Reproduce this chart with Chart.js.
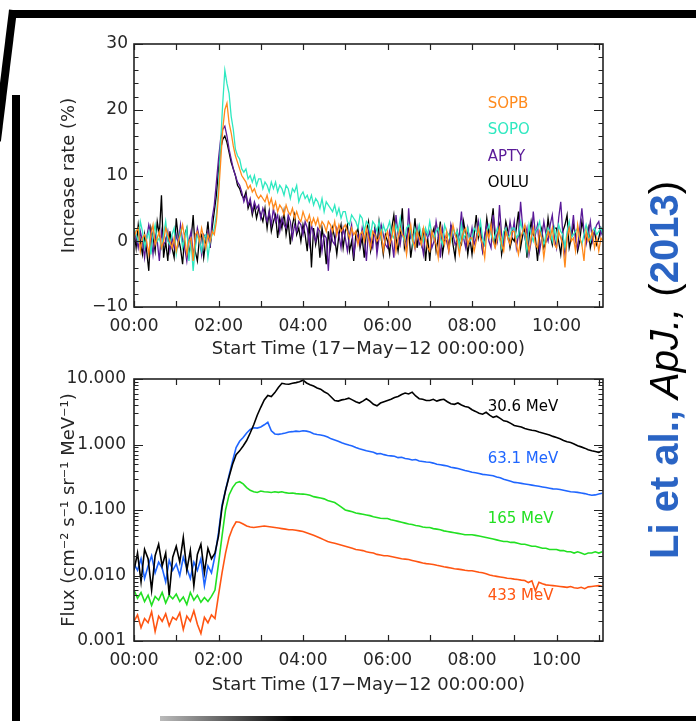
<!DOCTYPE html>
<html>
<head>
<meta charset="utf-8">
<script src="https://cdn.jsdelivr.net/npm/chart.js@4.4.1/dist/chart.umd.min.js"></script>
<style>
  html, body { margin: 0; padding: 0; background: #fff; }
  #wrap { position: relative; width: 696px; height: 721px; overflow: hidden; background: #fff; }
  canvas { position: absolute; left: 0; }
  #c1 { top: 0; }
  #c2 { top: 360px; }
  .bar { position: absolute; background: #000; }
  #cite {
    position: absolute; left: 664px; top: 370px;
    transform: translate(-50%, -50%) rotate(-90deg);
    white-space: nowrap; font-family: "Liberation Sans", Arial, sans-serif;
    font-size: 40px; color: #000; line-height: 1;
  }
  #cite b { color: #2a64c4; font-weight: bold; }
  #cite i { font-style: italic; }
</style>
</head>
<body>
<div id="wrap">
  <div class="bar" style="left:13px;top:10px;width:683px;height:8px;"></div>
  <div class="bar" style="left:12px;top:95px;width:8px;height:626px;"></div>
  <div class="bar" style="left:9px;top:10px;width:8px;height:132px;transform-origin:50% 0;transform:rotate(7deg);"></div>
  <div class="bar" style="left:160px;top:716px;width:536px;height:5px;background:linear-gradient(90deg,#bbb,#000 25%);"></div>
  <canvas id="c1" width="696" height="360"></canvas>
  <canvas id="c2" width="696" height="361"></canvas>
  <div id="cite"><b>Li et al.,</b> <i>ApJ.,</i> (<b>2013</b>)</div>
</div>
<script>
// ---------- sampling ----------
const rateSampleMinutes = 3; // top panel: one value every 3 minutes from 00:00
const fluxSampleMinutes = 5; // bottom panel: one value every 5 minutes from 00:00

// ---------- top panel: neutron monitor increase rate (%) ----------
const sopb = [
  0.5, 1.5, 2, -1.5, 0.5, 1, 0, -2, 1, 2.5, -0.5, 0.5, 1.5, -1, 0, 2, 1, 0, -1, 0.5,
  -1.5, 0, 1, 2.5, 0.5, -2, 0, 0.5, -3, 1, 1.5, 0, 2, 0.5, -1, 1, 0, 1.5, 1, 3,
  7, 12, 17, 20, 21, 18, 16.5, 14.5, 13, 12, 11, 10, 9.5, 9, 8, 8.5, 7.5, 8, 7, 6.5,
  7, 6.5, 6, 7, 5.5, 6.5, 5, 6, 4.5, 5.5, 5, 4, 5.5, 4.5, 4, 5, 3.5, 4.5, 3.5, 3,
  4.5, 3.5, 3, 4, 2.5, 3.5, 2.5, 3.5, 2, 3, 2.5, 1.5, 3, 2.5, 1.5, 3, 1, 2.5, 1.5, 2,
  2.5, 1.5, 0.5, 2, 1, 1.5, -0.5, 1, 1.5, 0, 2, 0.5, -1, 1.5, 1, 0, 0.5, 1.5, -1.5, 0.5,
  1.5, -0.5, 0.5, 2.5, -1.5, 0.5, 2, 1, 0.5, -2, 1, 2.5, 0, -1, 1.5, 0.5, -0.5, 2, 0.5, -1,
  -1.5, 1.5, 0.5, -0.5, -2.5, 2, 0.5, -0.5, 1.5, -1.5, 0.5, 2.5, 1, 0, -2, 0, 1.5, 2, -0.5, 0.5,
  0.5, -1.5, 0, 2, 0.5, -0.5, -2.5, 1.5, 0.5, 2.5, 0, -1, 0.5, 2, -0.5, -1.5, 1.5, 0.5, -0.5, 1.5,
  1.5, -0.5, -2, 0.5, 1.5, 2.5, 0, -1.5, 0.5, 2, -0.5, -1, 1.5, 0.5, -2.5, 0, 1.5, 0.5, 2, -0.5,
  -1, 1.5, 0.5, -0.5, -4, 0.5, 2, 0, 0.5, -1.5, 2.5, 0.5, -0.5, -3, 1.5, 0, 0.5, 1.5, -1, 0.5,
  -1.5, 0.5, 0
];
const sopo = [
  2, 1, 0, 3, 1.5, -1, 0.5, 1.5, -2, 1, 2.5, 0, 0.5, -1, 1, 3, 0, -0.5, 1, 2,
  -2, 0, 1.5, -1, 0.5, 2, -3, 0, -4.5, -1, 1, 0, -1.5, 0.5, 1, -2.5, 0, 1, 2, 4,
  8, 15, 21, 26, 24, 22.5, 19, 17, 14, 13, 12.5, 11, 10.5, 11, 9.5, 10, 9, 10, 8.5, 9.5,
  9.5, 8, 9, 8.5, 7.5, 9, 8, 9, 7.5, 8.5, 8, 7, 8.5, 8, 6.5, 8, 7.5, 8.5, 6, 7,
  7.5, 6.5, 7, 6, 7, 5.5, 6.5, 6, 5, 6.5, 4.5, 6, 5.5, 5, 4.5, 5.5, 4, 5, 3.5, 4.5,
  4.5, 3, 2.5, 4, 3.5, 3, 2, 4, 3.5, 1.5, 3, 2.5, 1, 3, 2.5, 1.5, 3, 0.5, 2.5, 1.5,
  2, 3, 1, 0.5, 2.5, 1.5, 3.5, 1, 0, 2, 2.5, 1.5, -0.5, 2, 1, 2.5, 1, 0, 2, 1,
  3, 1, 0.5, 1.5, 2, 0.5, -0.5, 2.5, 1.5, 1, 0, 2, 1, 1.5, -1, 2.5, 0.5, 1, 2, 0,
  0.5, 2, 1.5, 1, 3, 0.5, -0.5, 1.5, 2.5, 1, 0, 1, 2, 0.5, -1, 1.5, 2, 0.5, 1, 2,
  2, 0.5, 1, 3, 1.5, 1, -1.5, 2.5, 1, 0, 1.5, 2, 3, 0.5, -0.5, 1, 2, 1.5, 0, 2,
  0, 2.5, 1.5, 1, -1, 1.5, 3, 0.5, 1, 1.5, 2, 0.5, -0.5, 1, 2.5, 1, 0, 1.5, 2, 1,
  1.5, 2, 1
];
const apty = [
  2, 0.5, -1, 1.5, 0, -2.5, 0.5, 2.5, 1, -2, 1, 0, -3, 1.5, -0.5, 0, 1.5, -1.5, 0.5, -1,
  1, -0.5, 2.5, 0, -1, -3, 0, 1.5, -2, -0.5, 2, 0.5, -2, 1, 0.5, 1.5, -1, 3.5, 5.5, 9,
  12.5, 15.5, 17, 17.5, 16, 14, 12.5, 11, 10, 9, 8.5, 7.5, 6, 7, 5.5, 6.5, 4.5, 6, 5, 5.5,
  3.5, 5, 4, 3, 4.5, 2.5, 5, 3, 4, 1.5, 3.5, 2.5, 2, 4, 3, 0.5, 2.5, 1.5, 3, 2.5,
  1, 3, 2, -0.5, 2.5, 1, 0, 2, 1.5, -1.5, 1, 0.5, -4.5, 1.5, 0, -0.5, 2, 1, -1, 2,
  0.5, -1.5, 1, 2.5, -2, 0, 1, -0.5, 2, 0.5, -3, 1.5, 0, -1, 2, -2, 0.5, 2.5, 1, -0.5,
  -1, 1.5, 0, -2.5, 4, 1, -0.5, 2, 0, -1.5, 5, 0.5, 1, -1, 2, -0.5, 0, -2, 1.5, 0.5,
  1.5, -1, 0, 3, 1, -2.5, 2, 0.5, 0, -1.5, 2.5, 1, -0.5, 0, 1, 4.5, 0.5, -1, 2, 0,
  2, -0.5, 0.5, 3, 1, -1.5, 1, 2.5, 0, -1, 4, 1.5, 0, 5.5, 1, -0.5, 2, 0.5, 3, 1,
  3, -1, 1, 6, 2, 0.5, 2, -2, 0, 4.5, 1, 2.5, -1.5, 0.5, 3, 1, 0, 2.5, 4, 0.5,
  -1, 3.5, 6, 1, -2, 0.5, 2.5, 1, 4, 0, -1, 2, 5, 1.5, -0.5, 1, 3, 0, 1.5, 2.5,
  3, 1, 2
];
const oulu = [
  1.5, -1, 2.5, 0, -2, 1, -1.5, -4.5, 2, 0.5, -1.5, 3, 1, 7, -2.5, 0, -3, 1.5, -1, -2.5,
  3.5, 0.5, -1, -3.5, 1, 2, -2, 0, 4, -1.5, -3, 0.5, 1, -2.5, 0, 3, -1, 2, 4.5, 7,
  11, 14, 15.5, 16, 15, 13.5, 12, 11, 10, 8.5, 8, 7, 6.5, 7.5, 5, 6, 4, 5.5, 3.5, 5,
  4, 3, 5, 2, 4.5, 1.5, 3, 4, 0.5, 3.5, 2, 4.5, 1, 3, -0.5, 2.5, 4, 1, 2, 0,
  2.5, 1, -1.5, 3, -4, 2, -0.5, 1.5, -2.5, 2, 0, -3.5, 1.5, -1, 2, 0.5, -2, 1, 2.5, -1,
  1.5, 2.5, -1.5, 0, -3, 1, 2, -1, 0.5, -2.5, 1.5, 3, -1.5, 0, 2, -1, 3, 0.5, -2, 1,
  0, -2, 2, 4, 0.5, -1.5, 1, 5, -1, 0.5, 2, -2.5, 0, 3.5, -1, 1.5, -0.5, 2, -3, 0.5,
  -3, 1, 2, -1.5, 0.5, 3, -2, 0, 1, -1, 2.5, -0.5, -2.5, 1.5, 0, -0.5, 3, 1, -2, 0.5,
  -2, 1, 4, 0.5, 2, -1.5, 0, 3.5, 1, 2.5, 5, -0.5, 1, 2.5, -2, 0, 3, 1.5, -1, 0.5,
  0, 2, 4.5, -1, 1, 2, -2.5, 0.5, 3, 1, 0.5, -3, 1, 2, -1, 0, 3.5, 1, -0.5, 2,
  2, 0, -2, 1.5, 2.5, 4, -1, 0.5, 2.5, 1, -1.5, 0, 3, 1.5, 0, 2, -1, 0.5, 1.5, -0.5,
  0.5, 2, 1
];
const stationNames = ['SOPB', 'SOPO', 'APTY', 'OULU'];

// ---------- bottom panel: proton flux ----------
const flux306 = [
  0.012, 0.022, 0.008, 0.025, 0.018, 0.006, 0.02, 0.03, 0.014, 0.022, 0.005, 0.019,
  0.028, 0.016, 0.038, 0.012, 0.024, 0.007, 0.021, 0.03, 0.011, 0.026, 0.018, 0.022,
  0.04, 0.11, 0.2, 0.32, 0.5, 0.7, 0.8, 0.95, 1.15, 1.5, 2.0, 2.8,
  3.7, 4.8, 5.6, 5.4, 6.2, 7.4, 8.6, 8.4, 8.3, 8.6, 8.8, 9.1,
  9.6, 8.7, 8.2, 7.8, 7.3, 7.0, 6.4, 6.0, 5.3, 4.7, 4.6, 4.8,
  4.9, 5.1, 4.8, 4.5, 4.3, 4.6, 5.0, 4.6, 4.1, 3.9, 4.3, 4.5,
  4.7, 4.9, 5.2, 5.4, 5.8, 6.1, 5.9, 6.3, 5.5, 5.0, 4.9, 4.7,
  4.7, 4.9, 4.6, 4.8, 4.9, 4.5, 4.2, 4.1, 4.3, 4.0, 3.8, 3.7,
  3.4, 3.2, 3.0, 2.9, 3.1, 2.8, 2.6, 2.7, 2.5, 2.3, 2.25, 2.1,
  1.95, 1.9, 1.85, 1.75, 1.7, 1.65, 1.62, 1.55, 1.5, 1.45, 1.4, 1.33,
  1.28, 1.22, 1.15, 1.1, 1.07, 1.02, 0.96, 0.92, 0.88, 0.83, 0.8, 0.78,
  0.76, 0.8
];
const flux631 = [
  0.015, 0.012, 0.018, 0.009, 0.014, 0.02, 0.011, 0.016, 0.013, 0.008, 0.017, 0.012,
  0.015, 0.01, 0.019, 0.013, 0.009, 0.016, 0.012, 0.018, 0.007, 0.014, 0.011, 0.02,
  0.045, 0.12, 0.2, 0.34, 0.56, 0.9, 1.12, 1.28, 1.5, 1.7, 1.8, 1.78,
  1.85, 2.0, 2.18, 1.62, 1.45, 1.43, 1.46, 1.5, 1.55, 1.57, 1.6, 1.58,
  1.62, 1.6, 1.55, 1.46, 1.42, 1.4, 1.36, 1.3, 1.22, 1.17, 1.12, 1.06,
  1.02, 0.98, 0.95, 0.9, 0.86, 0.83, 0.8, 0.78, 0.76, 0.72, 0.73, 0.7,
  0.68, 0.67, 0.66, 0.63, 0.64, 0.61, 0.6, 0.58, 0.59, 0.56, 0.55, 0.54,
  0.535, 0.52, 0.5, 0.49, 0.48, 0.47, 0.45, 0.44, 0.43, 0.415, 0.4, 0.39,
  0.376, 0.37, 0.36, 0.35, 0.345, 0.34, 0.334, 0.32, 0.31, 0.295, 0.285, 0.275,
  0.264, 0.26, 0.255, 0.25, 0.245, 0.24, 0.235, 0.23, 0.225, 0.22, 0.215, 0.21,
  0.209, 0.205, 0.2, 0.195, 0.19, 0.188, 0.186, 0.182, 0.178, 0.172, 0.168, 0.17,
  0.175, 0.18
];
const flux165 = [
  0.006, 0.0045, 0.0055, 0.004, 0.005, 0.0035, 0.0048, 0.0042, 0.0055, 0.0038, 0.005, 0.0044,
  0.0052, 0.004, 0.0047, 0.0036, 0.0055, 0.0042, 0.005, 0.0039, 0.0046, 0.004, 0.0048, 0.006,
  0.015, 0.04, 0.1, 0.17, 0.22, 0.26, 0.27, 0.25, 0.22, 0.2, 0.19, 0.185,
  0.195, 0.19, 0.188, 0.185, 0.19, 0.186, 0.19, 0.184, 0.18, 0.182, 0.178, 0.176,
  0.175, 0.172, 0.168, 0.16, 0.156, 0.152, 0.148, 0.14, 0.135, 0.13, 0.12, 0.11,
  0.1, 0.097, 0.094, 0.09, 0.088, 0.086, 0.084, 0.082, 0.079, 0.077, 0.075, 0.074,
  0.074, 0.071, 0.069, 0.067, 0.065, 0.063, 0.061, 0.06, 0.058, 0.057, 0.055, 0.054,
  0.054, 0.052, 0.051, 0.05, 0.048, 0.047, 0.046, 0.045, 0.044, 0.043, 0.042, 0.042,
  0.042, 0.041, 0.04, 0.039, 0.038, 0.037, 0.036, 0.035, 0.034, 0.033, 0.033, 0.032,
  0.032, 0.031, 0.03, 0.03, 0.029, 0.028, 0.028, 0.027, 0.026, 0.026, 0.025, 0.025,
  0.025, 0.024, 0.024, 0.023, 0.023, 0.022, 0.023, 0.022, 0.021, 0.022, 0.022, 0.023,
  0.022, 0.023
];
const flux433 = [
  0.002, 0.0025, 0.0016, 0.0022, 0.0019, 0.0028, 0.0014, 0.0024, 0.002, 0.0026, 0.0017, 0.0023,
  0.0021, 0.0027, 0.0015, 0.0024, 0.002, 0.0029, 0.0018, 0.0013, 0.0023, 0.0019, 0.0025, 0.0022,
  0.005, 0.011, 0.022, 0.038, 0.053, 0.066, 0.065, 0.061, 0.057, 0.055, 0.054, 0.055,
  0.056, 0.057, 0.056, 0.055, 0.054, 0.053, 0.052, 0.051, 0.05, 0.05, 0.049, 0.048,
  0.047, 0.045, 0.043, 0.041, 0.039, 0.037, 0.035, 0.033, 0.032, 0.031, 0.03, 0.029,
  0.028, 0.027, 0.026, 0.025, 0.0245, 0.024, 0.023, 0.0225, 0.022, 0.021, 0.0205, 0.02,
  0.02, 0.0195, 0.019, 0.0185, 0.018, 0.0178, 0.0175, 0.017, 0.0165, 0.016, 0.0155, 0.0152,
  0.015, 0.0147, 0.0143, 0.014, 0.0136, 0.0133, 0.013, 0.0127, 0.0125, 0.0123, 0.012, 0.0118,
  0.0118, 0.0115, 0.0112, 0.011, 0.0106, 0.0102, 0.0099, 0.0097, 0.0095, 0.0093, 0.0091, 0.009,
  0.0088, 0.0087, 0.0085, 0.0084, 0.0078, 0.0083, 0.0058, 0.0079, 0.0075, 0.0072, 0.0071, 0.007,
  0.0069, 0.0068, 0.0067, 0.0066, 0.0068, 0.0065, 0.0064, 0.0066, 0.0063, 0.0067, 0.0068, 0.0069,
  0.007, 0.0068
];
const energyNames = ['30.6 MeV', '63.1 MeV', '165 MeV', '433 MeV'];

// ---------- axes ----------
const xLabelHours = [0, 2, 4, 6, 8, 10];
const xLabels = ['00:00', '02:00', '04:00', '06:00', '08:00', '10:00'];
const xTickHours = [0, 1, 2, 3, 4, 5, 6, 7, 8, 9, 10, 11];
const xMaxHours = 11.1;
const rateTicks = [-10, 0, 10, 20, 30];
const rateLabels = ['\u221210', '0', '10', '20', '30'];
const rateMinorStep = 2;
const fluxTicks = [0.001, 0.01, 0.1, 1, 10];
const fluxLabels = ['0.001', '0.010', '0.100', '1.000', '10.000'];

const toPoints = (vals, stepMin) => vals.map((v, i) => ({ x: i * stepMin / 60, y: v }));

const FONT = '"DejaVu Sans", sans-serif';
const TXT = '#262626';

const idlAxes = {
  id: 'idlAxes',
  afterDatasetsDraw(chart, args, o) {
    const { ctx, chartArea: a, scales } = chart;
    const xs = scales.x, ys = scales.y;
    ctx.save();
    ctx.strokeStyle = '#222';
    ctx.lineWidth = 1.6;
    ctx.strokeRect(a.left, a.top, a.right - a.left, a.bottom - a.top);
    ctx.lineWidth = 1.2;
    ctx.beginPath();
    for (const h of xTickHours) {
      const px = Math.round(xs.getPixelForValue(h)) + 0.5;
      if (px > a.right + 1) continue;
      ctx.moveTo(px, a.bottom); ctx.lineTo(px, a.bottom - 6);
      ctx.moveTo(px, a.top); ctx.lineTo(px, a.top + 6);
    }
    const yTick = (v, len) => {
      const py = Math.round(ys.getPixelForValue(v)) + 0.5;
      ctx.moveTo(a.left, py); ctx.lineTo(a.left + len, py);
      ctx.moveTo(a.right, py); ctx.lineTo(a.right - len, py);
    };
    for (const t of o.yMajor) yTick(t, 9);
    for (const t of o.yMinor) yTick(t, 4.5);
    ctx.stroke();
    ctx.font = '15px ' + FONT;
    ctx.textBaseline = 'middle';
    ctx.textAlign = 'left';
    for (const l of o.labels) {
      ctx.fillStyle = l.color;
      ctx.fillText(l.text, xs.getPixelForValue(l.x), ys.getPixelForValue(l.y));
    }
    ctx.restore();
  }
};

const xScale = (titlePadBottom, height) => ({
  type: 'linear', min: 0, max: xMaxHours,
  afterBuildTicks: s => { s.ticks = xLabelHours.map(v => ({ value: v })); },
  afterFit: s => { s.height = height; },
  grid: { display: false, drawTicks: false },
  border: { display: false },
  ticks: { padding: 9, color: TXT, font: { family: FONT, size: 17 }, maxRotation: 0, autoSkip: false,
           callback: (v, i) => xLabels[i] },
  title: { display: true, text: 'Start Time (17\u2212May\u221212 00:00:00)', color: TXT,
           font: { family: FONT, size: 18 }, padding: { top: 0, bottom: titlePadBottom } }
});

const commonOpts = {
  responsive: false, animation: false, events: [],
  plugins: { legend: { display: false }, tooltip: { enabled: false } },
  elements: { point: { radius: 0 }, line: { tension: 0 } }
};

// top chart
const rateMinor = [];
for (let v = rateTicks[0]; v <= rateTicks[rateTicks.length - 1]; v += rateMinorStep) if (!rateTicks.includes(v)) rateMinor.push(v);

const topColors = ['#ff8a1c', '#2ee8c0', '#5a1a98', '#000000'];
new Chart(document.getElementById('c1'), {
  type: 'line',
  data: {
    datasets: [sopb, sopo, apty, oulu].map((d, i) => ({
      label: stationNames[i], data: toPoints(d, rateSampleMinutes), borderColor: topColors[i], borderWidth: 1.3, parsing: false
    }))
  },
  options: Object.assign({}, commonOpts, {
    layout: { padding: { top: 44, left: 0, right: 93, bottom: 0 } },
    scales: {
      x: xScale(0, 53),
      y: {
        type: 'linear', min: -10, max: 30,
        afterBuildTicks: s => { s.ticks = rateTicks.map(v => ({ value: v })); },
        afterFit: s => { s.width = 134; },
        grid: { display: false, drawTicks: false }, border: { display: false },
        ticks: { padding: 6, color: TXT, font: { family: FONT, size: 17 }, callback: (v, i) => rateLabels[i] },
        title: { display: true, text: 'Increase rate (%)', color: TXT, font: { family: FONT, size: 18 }, padding: { top: 59 } }
      }
    },
    plugins: Object.assign({}, commonOpts.plugins, {
      idlAxes: {
        yMajor: rateTicks, yMinor: rateMinor,
        labels: stationNames.map((t, i) => ({ text: t, color: topColors[i], x: 8.37, y: [20.9, 16.9, 12.8, 8.8][i] }))
      }
    })
  }),
  plugins: [idlAxes]
});

// bottom chart
const fluxMinor = [];
for (let d = 0; d < fluxTicks.length - 1; d++) for (let k = 2; k <= 9; k++) fluxMinor.push(fluxTicks[d] * k);
const botColors = ['#000000', '#1f66ff', '#22e022', '#ff5512'];
new Chart(document.getElementById('c2'), {
  type: 'line',
  data: {
    datasets: [flux306, flux631, flux165, flux433].map((d, i) => ({
      label: energyNames[i], data: toPoints(d, fluxSampleMinutes), borderColor: botColors[i], borderWidth: 1.6, parsing: false
    }))
  },
  options: Object.assign({}, commonOpts, {
    layout: { padding: { top: 19, left: 0, right: 93, bottom: 0 } },
    scales: {
      x: xScale(25, 80),
      y: {
        type: 'logarithmic', min: 0.001, max: 10,
        afterBuildTicks: s => { s.ticks = fluxTicks.map(v => ({ value: v })); },
        afterFit: s => { s.width = 134; },
        grid: { display: false, drawTicks: false }, border: { display: false },
        ticks: { padding: 8, color: TXT, font: { family: FONT, size: 17 }, callback: (v, i) => fluxLabels[i] },
        title: { display: true, text: 'Flux (cm\u207B\u00B2 s\u207B\u00B9 sr\u207B\u00B9 MeV\u207B\u00B9)', color: TXT,
                 font: { family: FONT, size: 18 }, padding: { top: 59 } }
      }
    },
    plugins: Object.assign({}, commonOpts.plugins, {
      idlAxes: {
        yMajor: fluxTicks, yMinor: fluxMinor,
        labels: energyNames.map((t, i) => ({ text: t, color: botColors[i], x: 8.37, y: [3.74, 0.60, 0.073, 0.00486][i] }))
      }
    })
  }),
  plugins: [idlAxes]
});
</script>
</body>
</html>
